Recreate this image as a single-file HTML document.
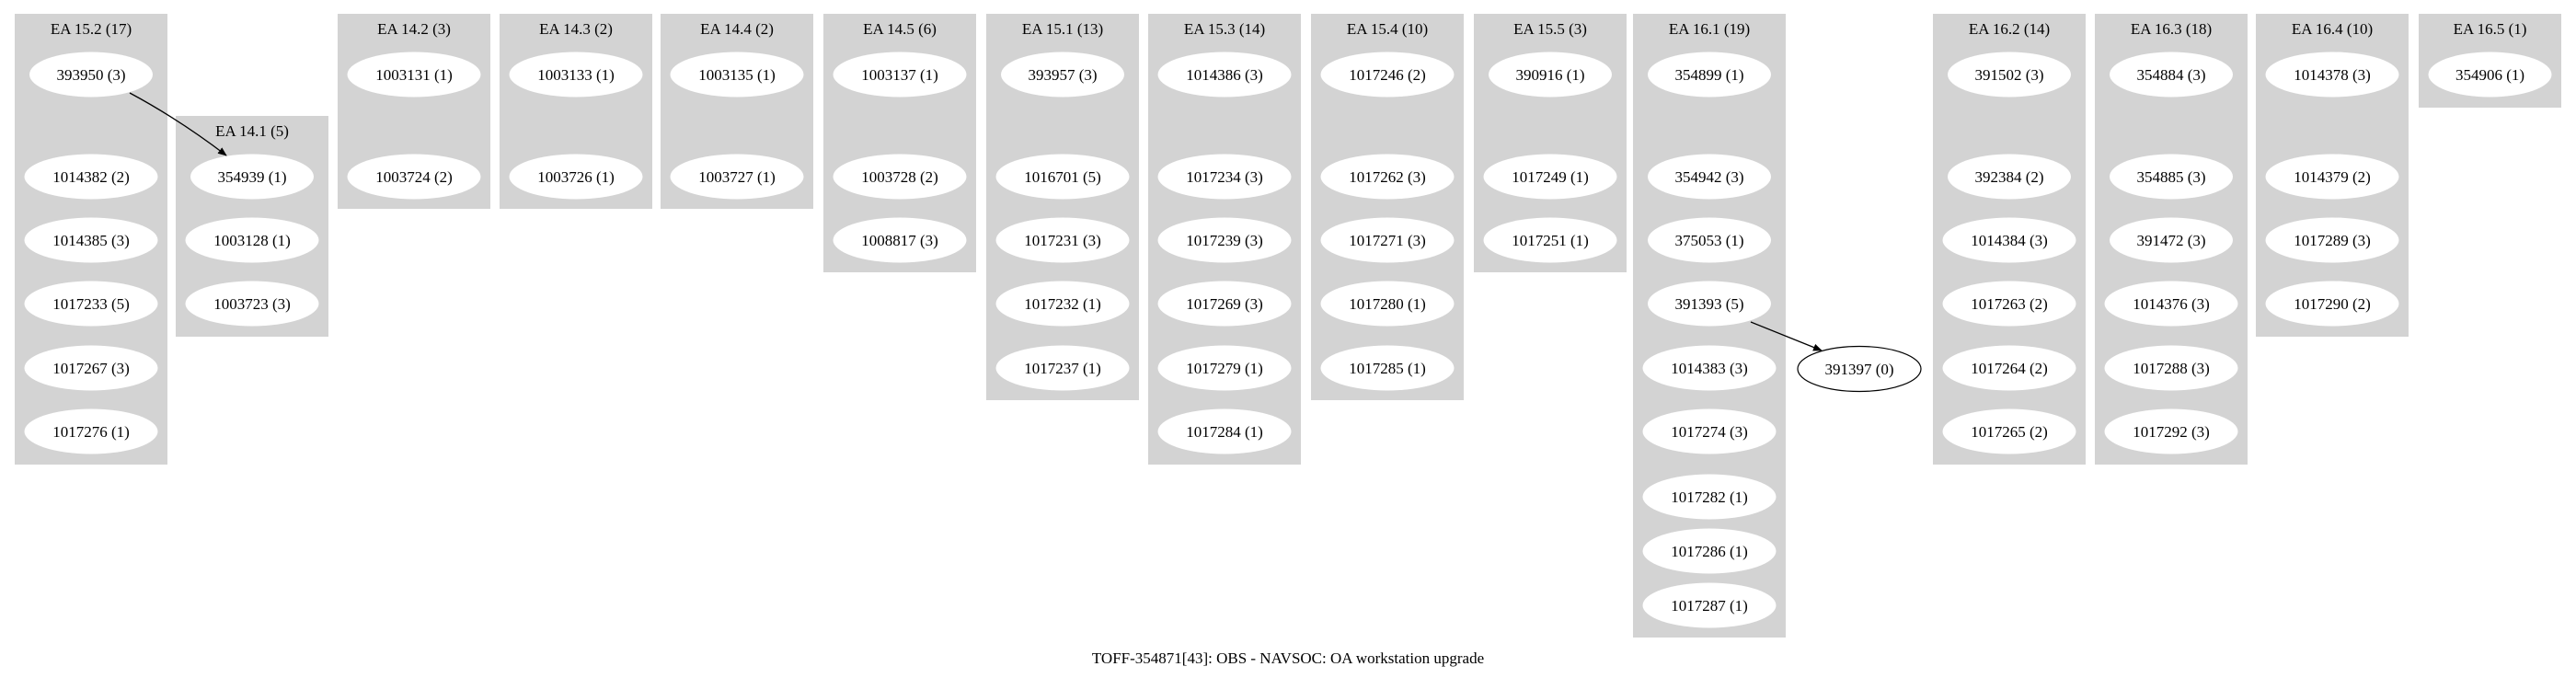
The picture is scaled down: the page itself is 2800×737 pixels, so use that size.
<!DOCTYPE html>
<html><head><meta charset="utf-8"><style>
html,body{margin:0;padding:0;background:#fff;}
svg{display:block;font-family:"Liberation Serif","Times New Roman",serif;}
</style></head><body>
<svg id="g" width="2800" height="737" viewBox="0 0 2800 737" xmlns="http://www.w3.org/2000/svg">
<defs><marker id="arr" markerWidth="10" markerHeight="8" refX="9" refY="4" orient="auto" markerUnits="userSpaceOnUse"><path d="M0,0 L18,4 L0,8 z" transform="scale(0.55,1)"/></marker></defs>
</svg>
<script>
const rowY = [81,192,261,330,400,469,540,599,658];
const clusterNames = ["EA 15.2 (17)","EA 14.1 (5)","EA 14.2 (3)","EA 14.3 (2)","EA 14.4 (2)","EA 14.5 (6)","EA 15.1 (13)","EA 15.3 (14)","EA 15.4 (10)","EA 15.5 (3)","EA 16.1 (19)","EA 16.2 (14)","EA 16.3 (18)","EA 16.4 (10)","EA 16.5 (1)"];
const clusterLeft = [16,191,367,543,718,895,1072,1248,1425,1602,1775,2101,2277,2452,2629];
const clusterWidth = [166,166,166,166,166,166,166,166,166,166,166,166,166,166,155];
const clusterTop = [15,126,15,15,15,15,15,15,15,15,15,15,15,15,15];
const clusterBottom = [505,366,227,227,227,296,435,505,435,296,693,505,505,366,117];
const clusterNodes = [
 [["393950 (3)",0],["1014382 (2)",1],["1014385 (3)",2],["1017233 (5)",3],["1017267 (3)",4],["1017276 (1)",5]],
 [["354939 (1)",1],["1003128 (1)",2],["1003723 (3)",3]],
 [["1003131 (1)",0],["1003724 (2)",1]],
 [["1003133 (1)",0],["1003726 (1)",1]],
 [["1003135 (1)",0],["1003727 (1)",1]],
 [["1003137 (1)",0],["1003728 (2)",1],["1008817 (3)",2]],
 [["393957 (3)",0],["1016701 (5)",1],["1017231 (3)",2],["1017232 (1)",3],["1017237 (1)",4]],
 [["1014386 (3)",0],["1017234 (3)",1],["1017239 (3)",2],["1017269 (3)",3],["1017279 (1)",4],["1017284 (1)",5]],
 [["1017246 (2)",0],["1017262 (3)",1],["1017271 (3)",2],["1017280 (1)",3],["1017285 (1)",4]],
 [["390916 (1)",0],["1017249 (1)",1],["1017251 (1)",2]],
 [["354899 (1)",0],["354942 (3)",1],["375053 (1)",2],["391393 (5)",3],["1014383 (3)",4],["1017274 (3)",5],["1017282 (1)",6],["1017286 (1)",7],["1017287 (1)",8]],
 [["391502 (3)",0],["392384 (2)",1],["1014384 (3)",2],["1017263 (2)",3],["1017264 (2)",4],["1017265 (2)",5]],
 [["354884 (3)",0],["354885 (3)",1],["391472 (3)",2],["1014376 (3)",3],["1017288 (3)",4],["1017292 (3)",5]],
 [["1014378 (3)",0],["1014379 (2)",1],["1017289 (3)",2],["1017290 (2)",3]],
 [["354906 (1)",0]]
];
const NS="http://www.w3.org/2000/svg";
const svg=document.getElementById('g');
function mk(t,a){const e=document.createElementNS(NS,t);for(const k in a)e.setAttribute(k,a[k]);return e;}
function ellW(label){return label.split(' ')[0].length>=7?145:134;}
clusterNames.forEach((nm,i)=>{
  const g=mk('g',{});
  
  
  const x=clusterLeft[i],w=clusterWidth[i],cx=x+w/2;
  const r=mk('rect',{x:x,y:clusterTop[i],width:w,height:clusterBottom[i]-clusterTop[i],fill:'#d3d3d3'});
  
  
  g.appendChild(r);
  const t=mk('text',{x:cx,y:clusterTop[i]+22,'text-anchor':'middle','font-size':'17'});
  
  
  t.textContent=nm;g.appendChild(t);
  clusterNodes[i].forEach(([lab,row])=>{
    const y=rowY[row];
    const ng=mk('g',{});
    
    
    ng.appendChild(mk('ellipse',{cx:cx,cy:y,rx:ellW(lab)/2,ry:24.5,fill:'#fff'}));
    const tt=mk('text',{x:cx,y:y+6,'text-anchor':'middle','font-size':'17'});
    tt.textContent=lab;ng.appendChild(tt);
    g.appendChild(ng);
  });
  svg.appendChild(g);
});
// standalone node
const sg=mk('g',{});


sg.appendChild(mk('ellipse',{cx:2021,cy:401,rx:67,ry:24.5,fill:'#fff',stroke:'#000','stroke-width':'1.2'}));
const st=mk('text',{x:2021,y:407,'text-anchor':'middle','font-size':'17'});st.textContent='391397 (0)';sg.appendChild(st);
svg.appendChild(sg);
// edges
const e1=mk('path',{d:'M141,101 Q195,130 246,169',fill:'none',stroke:'#000','stroke-width':'1.3','marker-end':'url(#arr)'});


svg.appendChild(e1);
const e2=mk('path',{d:'M1903,350 L1980,381',fill:'none',stroke:'#000','stroke-width':'1.3','marker-end':'url(#arr)'});


svg.appendChild(e2);
const ti=mk('text',{x:1400,y:721,'text-anchor':'middle','font-size':'17'});


ti.textContent='TOFF-354871[43]: OBS - NAVSOC: OA workstation upgrade';
svg.appendChild(ti);
</script>
</body></html>
